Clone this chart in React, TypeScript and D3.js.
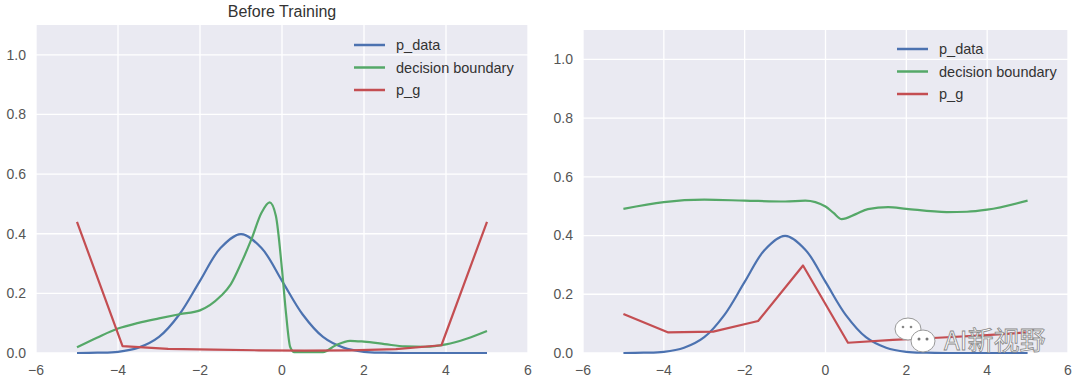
import React from 'react';
import * as d3 from 'd3';

// p_data (same curve in each)
const pDataX = [-5, -4.5, -4, -3.5, -3, -2.5, -2, -1.5, -1, -0.5, 0, 0.5, 1, 1.5, 2, 2.5, 3, 3.5, 4, 4.5, 5];
const pDataY = [0, 0.001, 0.004, 0.018, 0.054, 0.13, 0.242, 0.352, 0.399, 0.352, 0.242, 0.13, 0.054, 0.018, 0.004, 0.001, 0, 0, 0, 0, 0];

// p_g histogram points
const binX = [-5, -3.889, -2.778, -1.667, -0.556, 0.556, 1.667, 2.778, 3.889, 5];
const pgBefore = [0.44, 0.023, 0.014, 0.011, 0.009, 0.008, 0.009, 0.013, 0.026, 0.44];
const pgAfter = [0.133, 0.07, 0.073, 0.109, 0.298, 0.035, 0.045, 0.052, 0.06, 0.07];

// decision boundary, before training
const dbBeforeX = [-5, -4.5, -4, -3.5, -3, -2.5, -2, -1.5, -1.25, -1, -0.75, -0.5, -0.3, -0.15, 0, 0.1, 0.2, 0.3, 1.0, 1.3, 1.66, 2.0, 2.5, 3.0, 3.5, 4.0, 4.5, 5];
const dbBeforeY = [0.019, 0.052, 0.082, 0.101, 0.116, 0.13, 0.143, 0.19, 0.23, 0.3, 0.38, 0.47, 0.505, 0.46, 0.28, 0.13, 0.02, 0.003, 0.003, 0.025, 0.041, 0.038, 0.03, 0.022, 0.021, 0.029, 0.048, 0.074];

// decision boundary, after training
const dbAfterX = [-5, -4, -3, -2, -1, -0.5, 0, 0.2, 0.4, 0.75, 1.05, 1.55, 2, 3, 3.5, 4, 5];
const dbAfterY = [0.491, 0.514, 0.522, 0.519, 0.516, 0.519, 0.499, 0.477, 0.456, 0.473, 0.49, 0.497, 0.491, 0.48, 0.481, 0.488, 0.519];

const xTicks = [-6, -4, -2, 0, 2, 4, 6];
const yTicks = [0, 0.2, 0.4, 0.6, 0.8, 1.0];
const seriesNames = ['p_data', 'decision boundary', 'p_g'];
const seriesColors = ['#4C72B0', '#55A868', '#C44E52'];

const FONT = '"Liberation Sans", Arial, sans-serif';

function Panel(props) {
  const {left, right, top, bottom, title, dbX, dbY, pg, legendX, legendY, labelRight} = props;
  const x = d3.scaleLinear().domain([-6, 6]).range([left, right]);
  const y = d3.scaleLinear().domain([0, 1.1]).range([bottom, top]);

  const smooth = d3.line().x(d => x(d[0])).y(d => y(d[1])).curve(d3.curveMonotoneX);
  const rounded = d3.line().x(d => x(d[0])).y(d => Math.min(y(d[1]), bottom)).curve(d3.curveCatmullRom);
  const straight = d3.line().x(d => x(d[0])).y(d => y(d[1]));

  const blue = rounded(pDataX.map((v, i) => [v, pDataY[i]]));
  const green = smooth(dbX.map((v, i) => [v, dbY[i]]));
  const red = straight(binX.map((v, i) => [v, pg[i]]));

  return (
    <g>
      <rect x={left} y={top} width={right - left} height={bottom - top} fill="#EAEAF2" />
      {xTicks.map(t => (
        <line key={'gx' + t} x1={x(t)} x2={x(t)} y1={top} y2={bottom} stroke="#fff" strokeWidth={1.3} />
      ))}
      {yTicks.map(t => (
        <line key={'gy' + t} x1={left} x2={right} y1={y(t)} y2={y(t)} stroke="#fff" strokeWidth={1.3} />
      ))}
      {xTicks.map(t => (
        <text key={'tx' + t} x={x(t)} y={bottom + 22} textAnchor="middle" fontSize={14} fill="#555" fontFamily={FONT}>
          {t < 0 ? '\u2212' + Math.abs(t) : t}
        </text>
      ))}
      {yTicks.map(t => (
        <text key={'ty' + t} x={labelRight} y={y(t)} dy="0.35em" textAnchor="end" fontSize={14} fill="#555" fontFamily={FONT}>
          {t.toFixed(1)}
        </text>
      ))}
      <path d={blue} fill="none" stroke={seriesColors[0]} strokeWidth={2.2} />
      <path d={green} fill="none" stroke={seriesColors[1]} strokeWidth={2.2} />
      <path d={red} fill="none" stroke={seriesColors[2]} strokeWidth={2.2} strokeLinejoin="round" />
      {title ? (
        <text x={(left + right) / 2} y={17} textAnchor="middle" fontSize={16} fill="#333" fontFamily={FONT}>{title}</text>
      ) : null}
      {seriesNames.map((name, i) => (
        <g key={name} transform={`translate(${legendX},${legendY + i * 22.5})`}>
          <line x1={0} x2={31} y1={0} y2={0} stroke={seriesColors[i]} strokeWidth={2.5} />
          <text x={42} y={0} dy="0.35em" fontSize={14.5} fill="#333" fontFamily={FONT}>{name}</text>
        </g>
      ))}
    </g>
  );
}

function Watermark() {
  return (
    <g>
      <ellipse cx={908} cy={329} rx={13} ry={11} fill="#fff" stroke="#999" strokeWidth={1} />
      <circle cx={903} cy={327} r={1.3} fill="#888" />
      <circle cx={911} cy={327} r={1.3} fill="#888" />
      <ellipse cx={923} cy={341} rx={12} ry={11} fill="#fff" stroke="#999" strokeWidth={1} />
      <circle cx={919} cy={339} r={1.5} fill="#777" />
      <circle cx={927} cy={339} r={1.5} fill="#777" />
      <text x={944} y={350} fontSize={26} fill="#fff" stroke="#888" strokeWidth={0.8}
        fontFamily='"Noto Sans CJK SC", sans-serif'>AI新视野</text>
    </g>
  );
}

export default function App() {
  return (
    <svg width={1080} height={386} style={{position: 'absolute', left: 0, top: 0, background: '#fff'}}>
      <Panel left={36} right={528} top={25} bottom={353} title="Before Training"
        dbX={dbBeforeX} dbY={dbBeforeY} pg={pgBefore} legendX={354} legendY={45} labelRight={26} />
      <Panel left={583} right={1068} top={30} bottom={353} title={null}
        dbX={dbAfterX} dbY={dbAfterY} pg={pgAfter} legendX={897} legendY={49} labelRight={573} />
      <Watermark />
    </svg>
  );
}
